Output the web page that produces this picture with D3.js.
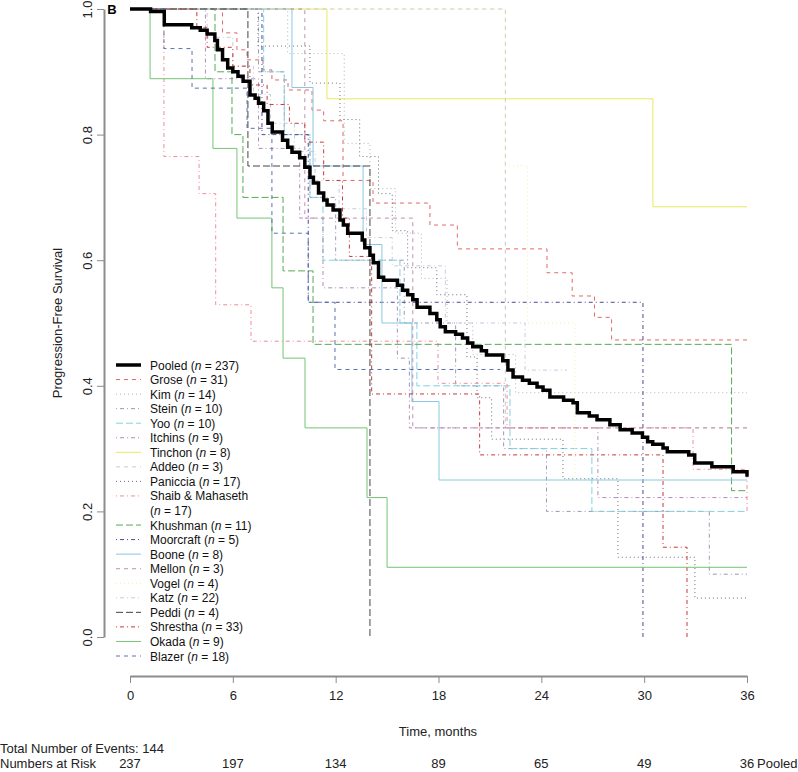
<!DOCTYPE html>
<html><head><meta charset="utf-8">
<script src="https://cdn.jsdelivr.net/npm/d3@7"></script>
<style>body{margin:0;background:#fff}svg{display:block}</style>
</head><body>
<svg id="chart" width="798" height="772"></svg>
<script>
// ---- data: [time in months, survival] step points ----
const pooled = [[0,1],[1.2,0.996],[2.0,0.975],[3.6,0.970],[4.1,0.966],[4.5,0.960],[4.95,0.950],[5.1,0.935],[5.4,0.919],[5.7,0.906],[6.0,0.900],[6.3,0.893],[6.6,0.885],[7.0,0.863],[7.3,0.858],[7.5,0.850],[7.8,0.838],[8.05,0.818],[8.3,0.804],[8.9,0.791],[9.2,0.780],[9.45,0.772],[9.9,0.763],[10.2,0.748],[10.5,0.732],[10.7,0.723],[11.0,0.707],[11.3,0.696],[11.5,0.688],[11.85,0.680],[12.25,0.664],[12.45,0.656],[12.7,0.643],[13.55,0.632],[13.7,0.620],[14.0,0.608],[14.2,0.596],[14.5,0.573],[14.8,0.568],[15.6,0.560],[15.9,0.552],[16.2,0.545],[16.5,0.537],[16.75,0.525],[17.5,0.515],[17.9,0.505],[18.1,0.494],[18.4,0.486],[19.0,0.482],[19.4,0.476],[19.7,0.468],[20.0,0.462],[20.5,0.456],[20.8,0.449],[21.75,0.440],[22.05,0.425],[22.35,0.414],[22.9,0.409],[23.3,0.404],[23.75,0.398],[24.1,0.393],[24.5,0.382],[25.3,0.377],[25.85,0.373],[26.1,0.357],[26.8,0.352],[27.25,0.346],[28.0,0.338],[28.6,0.330],[29.3,0.325],[29.9,0.318],[30.2,0.311],[30.5,0.307],[31.1,0.301],[31.35,0.295],[32.6,0.290],[32.95,0.277],[33.95,0.271],[35.2,0.263],[36,0.255]];
const grose = [[0,1],[5.4,0.962],[6.24,0.935],[6.83,0.919],[7.76,0.903],[8.28,0.887],[9.22,0.871],[10.62,0.839],[11.3,0.822],[12.43,0.727],[14.18,0.691],[17.5,0.656],[19.1,0.618],[24.33,0.580],[25.8,0.543],[27.1,0.509],[28.1,0.473],[36,0.473]];
const kim = [[0,1],[9.2,0.929],[12.5,0.786],[14.0,0.714],[15.5,0.643],[17.0,0.571],[18.5,0.5],[20.0,0.45],[22.5,0.389],[36,0.389]];
const stein = [[0,1],[7.5,0.9],[9.0,0.8],[10.5,0.7],[12.0,0.6],[16.0,0.5],[19.0,0.4],[21.8,0.3],[24.3,0.2],[33.8,0.1],[36,0.1]];
const yoo = [[0,1],[7.8,0.9],[9.0,0.8],[10.5,0.7],[11.26,0.6],[15.75,0.5],[16.74,0.4],[22.17,0.3],[26.95,0.2],[36,0.2]];
const itchins = [[0,1],[4.4,0.889],[7.5,0.778],[9.9,0.667],[11.26,0.556],[15.6,0.444],[16.3,0.333],[27.3,0.222],[36,0.222]];
const tinchon = [[0,1],[11.49,0.857],[30.51,0.685],[36,0.685]];
const addeo = [[0,1],[21.9,0.333],[36,0.333]];
const paniccia = [[0,1],[7.47,0.941],[10.5,0.882],[12.25,0.824],[13.4,0.765],[14.5,0.706],[15.3,0.647],[16.2,0.588],[17.9,0.545],[19.66,0.446],[20.25,0.381],[21.1,0.315],[25.26,0.252],[28.47,0.127],[32.96,0.062],[36,0.062]];
const shaib = [[0,1],[1.98,0.765],[4.03,0.706],[5.0,0.529],[7.06,0.471],[17.97,0.404],[22.0,0.333],[32.85,0.267],[36,0.2]];
const khushman = [[0,1],[4.96,0.9],[5.95,0.8],[6.59,0.7],[8.93,0.583],[10.68,0.466],[35.1,0.233],[36,0.233]];
const moorcraft = [[0,1],[7.7,0.8],[10.4,0.533],[29.93,0]];
const boone = [[0,1],[9.45,0.875],[10.68,0.75],[13.6,0.625],[14.7,0.5],[16.45,0.375],[18.03,0.25],[36,0.25]];
const mellon = [[0,1],[10.2,0.667],[16.5,0.333],[36,0.333]];
const vogel = [[0,1],[21.9,0.75],[23.2,0.5],[25.96,0.25],[26.5,0.25]];
const katz = [[0,1],[4.5,0.955],[6.0,0.909],[7.2,0.864],[8.2,0.818],[9.6,0.773],[10.8,0.727],[12.2,0.682],[13.8,0.636],[15.3,0.591],[18.4,0.5],[23.05,0.425],[25.5,0.425]];
const peddi = [[0,1],[6.88,0.75],[14.0,0]];
const shrestha = [[0,1],[3.9,0.97],[4.5,0.939],[6.0,0.909],[7.0,0.879],[8.0,0.848],[9.3,0.818],[10.2,0.788],[11.3,0.727],[12.4,0.667],[12.8,0.606],[14.1,0.387],[20.4,0.29],[31.1,0.143],[32.5,0]];
const okada = [[0,1],[1.17,0.889],[4.84,0.778],[6.24,0.667],[8.28,0.556],[8.93,0.444],[10.21,0.333],[13.83,0.222],[15.0,0.111],[36,0.111]];
const blazer = [[0,1],[1.98,0.937],[3.62,0.874],[6.83,0.81],[8.28,0.643],[10.4,0.533],[11.96,0.426],[21.6,0.426]];

const seriesNames = ["Pooled","Grose","Kim","Stein","Yoo","Itchins","Tinchon","Addeo","Paniccia","Shaib & Mahaseth","Khushman","Moorcraft","Boone","Mellon","Vogel","Katz","Peddi","Shrestha","Okada","Blazer"];
const seriesN = [237,31,14,10,10,9,8,3,17,17,11,5,8,3,4,22,4,33,9,18];
const seriesData = [pooled,grose,kim,stein,yoo,itchins,tinchon,addeo,paniccia,shaib,khushman,moorcraft,boone,mellon,vogel,katz,peddi,shrestha,okada,blazer];
const seriesColors = ["#000000","#e06868","#b4b4b4","#9898b8","#84d0e0","#b488b8","#e8e860","#c8c8c8","#6c6c84","#f08c98","#55aa55","#4a4a92","#88c8e0","#c090b0","#f0f0a8","#c4ccdc","#444444","#c83838","#74c474","#5a70b0"];
const seriesDash = ["", "4,4","1,3","1,3,4,3","7,3","1,3,4,3","","4,4","1,3","1,3,4,3","7,3","1,3,4,3","","4,4","1,3","1,3,4,3","7,3","1,3,4,3","","4,4"];

const xTicks = [0,6,12,18,24,30,36];
const yTicks = [0,0.2,0.4,0.6,0.8,1.0];
const atRisk = [237,197,134,89,65,49,36];
const totalEvents = 144;

// ---- drawing ----
const svg = d3.select("#chart");
const x = d3.scaleLinear().domain([0,36]).range([130,747]);
const y = d3.scaleLinear().domain([0,1]).range([637,9]);
const narrow = "'Liberation Sans Narrow','Arial Narrow',sans-serif";
const regular = "'Liberation Sans',Arial,Helvetica,sans-serif";

const line = d3.line().x(d=>x(d[0])).y(d=>y(d[1])).curve(d3.curveStepAfter);

const order = d3.range(1, seriesData.length).concat([0]);
svg.append("g").selectAll("path").data(order).join("path")
  .attr("d", i => line(seriesData[i]))
  .attr("fill","none")
  .attr("stroke", i => seriesColors[i])
  .attr("stroke-width", i => i===0 ? 3.5 : 1)
  .attr("stroke-dasharray", i => seriesDash[i] || null)
  .attr("stroke-linejoin","miter");

// y axis
const yAxis = svg.append("g").attr("transform","translate(104,0)")
  .call(d3.axisLeft(y).tickValues(yTicks).tickSize(7).tickSizeOuter(0).tickFormat(d3.format(".1f")));
yAxis.select(".domain").attr("stroke","#8c8c8c").attr("stroke-width",2);
yAxis.selectAll(".tick line").attr("stroke","#8c8c8c");
yAxis.selectAll(".tick text").attr("font-family",narrow).attr("font-size",13).attr("fill","#222")
  .attr("x",0).attr("dy",0).attr("text-anchor","middle")
  .attr("transform","translate(-12,0) rotate(-90)");

// x axis
const xAxis = svg.append("g").attr("transform","translate(0,676)")
  .call(d3.axisBottom(x).tickValues(xTicks).tickSize(7).tickSizeOuter(0));
xAxis.select(".domain").attr("stroke","#8c8c8c").attr("stroke-width",2);
xAxis.selectAll(".tick line").attr("stroke","#8c8c8c");
xAxis.selectAll(".tick text").attr("font-family",narrow).attr("font-size",13).attr("fill","#222").attr("y",24).attr("dy",0);

// axis titles
svg.append("text").attr("transform","translate(62,323) rotate(-90)").attr("text-anchor","middle")
  .attr("font-family",narrow).attr("font-size",13).attr("fill","#222").text("Progression-Free Survival");
svg.append("text").attr("x",438).attr("y",736).attr("text-anchor","middle")
  .attr("font-family",narrow).attr("font-size",13).attr("fill","#222").text("Time, months");
svg.append("text").attr("x",112).attr("y",14).attr("text-anchor","middle")
  .attr("font-family",regular).attr("font-weight","bold").attr("font-size",13).text("B");

// events and numbers at risk
svg.append("text").attr("x",0).attr("y",753).attr("font-family",narrow).attr("font-size",13).attr("fill","#222")
  .text("Total Number of Events: " + totalEvents);
const riskY = 768;
svg.append("text").attr("x",0).attr("y",riskY).attr("font-family",narrow).attr("font-size",13).attr("fill","#222").text("Numbers at Risk");
svg.append("g").selectAll("text").data(xTicks).join("text")
  .attr("x",(d)=>x(d)).attr("y",riskY).attr("text-anchor","middle")
  .attr("font-family",narrow).attr("font-size",13).attr("fill","#222")
  .text((d,i)=>atRisk[i]);
svg.append("text").attr("x",757).attr("y",riskY).attr("font-family",narrow).attr("font-size",13).attr("fill","#222").text("Pooled");

// legend
const legRowH = 14.55, legTop = 365;
let row = 0;
const leg = svg.append("g");
seriesNames.forEach((name,i)=>{
  const yy = legTop + row*legRowH;
  leg.append("line").attr("x1",116).attr("x2",141).attr("y1",yy).attr("y2",yy)
    .attr("stroke",seriesColors[i]).attr("stroke-width", i===0?3.5:1)
    .attr("stroke-dasharray",seriesDash[i]||null);
  const t = leg.append("text").attr("x",150).attr("y",yy+4.5)
    .attr("font-family",regular).attr("font-size",12).attr("fill","#111");
  if (name.length > 12) {
    t.text(name);
    row++;
    const t2 = leg.append("text").attr("x",150).attr("y",legTop+row*legRowH+4.5)
      .attr("font-family",regular).attr("font-size",12).attr("fill","#111");
    t2.append("tspan").text("(");
    t2.append("tspan").attr("font-style","italic").text("n");
    t2.append("tspan").text(" = " + seriesN[i] + ")");
  } else {
    t.append("tspan").text(name + " (");
    t.append("tspan").attr("font-style","italic").text("n");
    t.append("tspan").text(" = " + seriesN[i] + ")");
  }
  row++;
});
</script>
</body></html>
